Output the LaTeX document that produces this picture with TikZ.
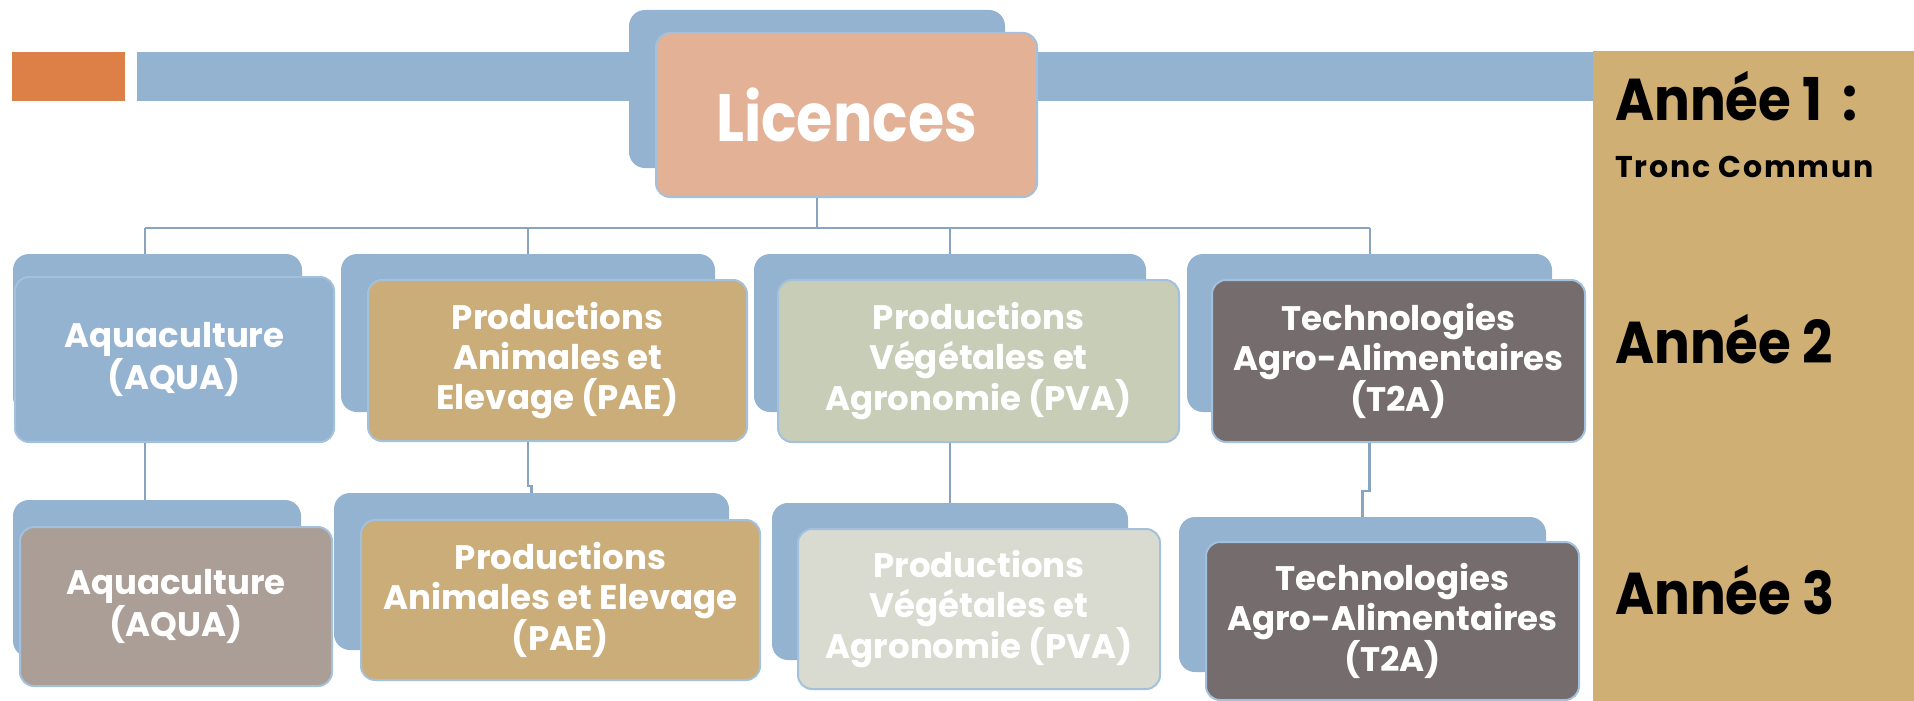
\documentclass[tikz,border=0pt]{standalone}
\usepackage{fontspec}
\setmainfont{Poppins}
\newfontfamily\licfont[FakeStretch=0.875]{Poppins}
\newfontfamily\yearfont[FakeStretch=0.9]{Poppins}
\newfontfamily\troncfont[LetterSpace=6]{Poppins}
\usetikzlibrary{calc}
\definecolor{bluegray}{HTML}{94B3D1}
\definecolor{edgeblue}{HTML}{A3C0DC}
\definecolor{linkblue}{HTML}{87A4C0}
\definecolor{barorange}{HTML}{DD8047}
\definecolor{peach}{HTML}{E2B196}
\definecolor{tan}{HTML}{CBAD79}
\definecolor{sage}{HTML}{C8CDB8}
\definecolor{palesage}{HTML}{D9DBD0}
\definecolor{taupe}{HTML}{756C6D}
\definecolor{mauve}{HTML}{AB9E97}
\definecolor{panel}{HTML}{CFAF73}
\tikzset{
  backbox/.style={fill=bluegray, rounded corners=16pt, inner sep=0pt},
  frontbox/.style={draw=edgeblue, line width=2pt, rounded corners=14pt, inner sep=0pt,
    text=white, align=center, font=\fontsize{34}{40}\selectfont\bfseries},
  link/.style={draw=linkblue, line width=2.5pt},
  yeartext/.style={anchor=base west, inner sep=0pt, text=black, font=\yearfont\fontsize{59}{60}\selectfont\bfseries}
}

\begin{document}
\begin{tikzpicture}[x=1pt, y=-1pt]
			%%%%% START %%%%%
			\useasboundingbox (0,0) rectangle (1914,701);
			
			\fill[barorange] (12,52) rectangle (125,101);
			\fill[bluegray] (137,52) rectangle (1593,101);
			\fill[panel] (1593,51) rectangle (1914,701);
			
			\node[yeartext] (an1) at (1615,120) {Année 1\hspace{20pt}:};
			\node[yeartext, font=\troncfont\fontsize{30}{32}\selectfont\bfseries] (tronc) at (1615,177) {Tronc Commun};
			\node[yeartext] (an2) at (1615,363) {Année 2};
			\node[yeartext] (an3) at (1615,614) {Année 3};
			
			\coordinate (busL) at (145,228);
			\coordinate (busR) at (1370,228);
			
			% back boxes
			\node[backbox, minimum width=376, minimum height=158] (licB) at (817,89) {};
			\node[backbox, minimum width=289, minimum height=159] (aqua2b) at (157.5,333.5) {};
			\node[backbox, minimum width=374, minimum height=158] (pae2b) at (528,333) {};
			\node[backbox, minimum width=392, minimum height=158] (pva2b) at (950,333) {};
			\node[backbox, minimum width=365, minimum height=158] (t2a2b) at (1369.5,333) {};
			\node[backbox, minimum width=288, minimum height=157] (aqua3b) at (157,578.5) {};
			\node[backbox, minimum width=395, minimum height=157] (pae3b) at (531.5,571.5) {};
			\node[backbox, minimum width=356, minimum height=157] (pva3b) at (950,581.5) {};
			\node[backbox, minimum width=367, minimum height=155] (t2a3b) at (1362.5,594.5) {};
			
			% front boxes
			\node[frontbox, fill=peach, minimum width=381, minimum height=164,
			      font=\licfont\fontsize{67}{70}\selectfont\bfseries] (lic) at (846.5,115) {Licences};
			\node[frontbox, fill=bluegray, minimum width=319, minimum height=165] (aqua2) at (174.5,359.5) {Aquaculture\\(AQUA)};
			\node[frontbox, fill=tan, minimum width=379, minimum height=161] (pae2) at (557.5,360.5) {Productions\\Animales et\\Elevage (PAE)};
			\node[frontbox, fill=sage, minimum width=401, minimum height=162] (pva2) at (978.5,361) {Productions\\Végétales et\\Agronomie (PVA)};
			\node[frontbox, fill=taupe, minimum width=373, minimum height=162] (t2a2) at (1398.5,361) {Technologies\\Agro-Alimentaires\\(T2A)};
			\node[frontbox, fill=mauve, minimum width=312, minimum height=159] (aqua3) at (176,606.5) {Aquaculture\\(AQUA)};
			\node[frontbox, fill=tan, minimum width=399, minimum height=160] (pae3) at (560.5,600) {Productions\\Animales et Elevage\\(PAE)};
			\node[frontbox, fill=palesage, minimum width=362, minimum height=160] (pva3) at (979,609) {Productions\\Végétales et\\Agronomie (PVA)};
			\node[frontbox, fill=taupe, minimum width=373, minimum height=158] (t2a3) at (1392.5,621) {Technologies\\Agro-Alimentaires\\(T2A)};
			
			% connectors
			\draw[link] (licB |- lic.south) -- (licB |- busL);
			\draw[link] (busL) -- (busR);
			\draw[link] (busL) -- (busL |- aqua2b.north);
			\draw[link] (pae2b.north |- busL) -- (pae2b.north);
			\draw[link] (pva2b.north |- busL) -- (pva2b.north);
			\draw[link] (busR) -- (busR |- t2a2b.north);
			
			\draw[link] (busL |- aqua2.south) -- (busL |- aqua3b.north);
			\draw[link] (pae2b |- pae2.south) -- ++(0,44) -| (pae3b.north);
			\draw[link] (pva2b |- pva2.south) -- (pva3b.north);
			\draw[link] (t2a2b |- t2a2.south) -- ++(0,48) -| (t2a3b.north);
			
			%%%%% END %%%%%
\end{tikzpicture}
\end{document}
